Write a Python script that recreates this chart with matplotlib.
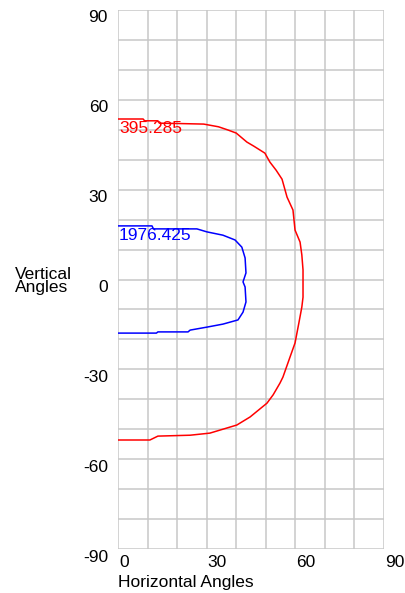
import matplotlib
matplotlib.use("Agg")
import matplotlib.pyplot as plt
import matplotlib.transforms as mtransforms

# ========== DATA ==========
# outer contour (red), traced from top to bottom
red_h = [0, 8.5, 9, 13.5, 14, 20, 29, 34, 37, 40, 43.6, 46, 49.7, 51.4, 53.5, 55.5,
         57.2, 59.2, 59.9, 61.6, 62.2, 62.6, 62.6, 62.2, 61.2, 59.9, 58.2, 55.8,
         54.8, 52.5, 50.4, 44.7, 40.2, 31.1, 24.4, 13.5, 10.8, 0]
red_v = [53.6, 53.6, 53.0, 53.0, 52.2, 52.1, 51.9, 51.0, 50.0, 48.9, 45.9, 44.5, 42.2,
         39.2, 36.5, 33.5, 27.5, 23.2, 16.5, 12.5, 8.2, 3.2, -5.9, -9.2, -14.5, -21.2,
         -25.9, -32.6, -34.6, -38.5, -41.3, -45.9, -48.6, -51.3, -52.0, -52.3, -53.6, -53.6]

# inner contour (blue)
blue_h = [0, 11.5, 12, 26.7, 30.1, 35.5, 39.6, 41.9, 43, 43.3, 42.3, 43, 43.3, 42.3,
          40.6, 35.5, 30.1, 24.4, 23.7, 13.5, 13, 0]
blue_v = [17.9, 17.9, 16.9, 16.9, 15.9, 14.8, 13.2, 10.8, 7.2, 2.2, -0.8, -2.5, -7.5,
          -10.9, -13.5, -14.9, -15.9, -16.9, -17.5, -17.5, -17.9, -17.9]

red_label = "395.285"
blue_label = "1976.425"

x_ticks = [0, 30, 60, 90]
y_ticks = [90, 60, 30, 0, -30, -60, -90]

FONT = "Liberation Sans"
FS = 12.5
GRID = "#c8c8c8"
RED = "#ff0000"
BLUE = "#0000ff"

# ========== FIGURE ==========
fig = plt.figure(figsize=(4.05, 5.93), dpi=100)
ax = fig.add_axes([118 / 405, 1 - 549 / 593, 266 / 405, 539 / 593])
ax.set_xlim(0, 90)
ax.set_ylim(-90, 90)

# grid every 10 degrees
for gx in range(0, 91, 10):
    ax.axvline(gx, color=GRID, lw=1.1, zorder=1)
for gy in range(-90, 91, 10):
    ax.axhline(gy, color=GRID, lw=1.1, zorder=1)
for s in ax.spines.values():
    s.set_visible(False)

ax.plot(red_h, red_v, color=RED, lw=1.1, zorder=3)
ax.plot(blue_h, blue_v, color=BLUE, lw=1.1, zorder=3)

ax.text(0.3, 53.0, red_label, color=RED, fontsize=FS, family=FONT,
        ha="left", va="top", zorder=4)
ax.text(0.3, 17.2, blue_label, color=BLUE, fontsize=FS, family=FONT,
        ha="left", va="top", zorder=4)

# ========== TICK LABELS ==========
ax.set_xticks([])
ax.set_yticks([])
down = mtransforms.offset_copy(ax.transData, fig=fig, x=0, y=-8, units="dots")
for t in y_ticks:
    ax.text(-3.4, t, str(t), transform=down, fontsize=FS, family=FONT,
            ha="right", va="center", clip_on=False)
for t in x_ticks:
    ax.text(t + 0.4, -92.0, str(t), fontsize=FS, family=FONT,
            ha="left", va="top", clip_on=False)

fig.text(118 / 405, 1 - 583 / 593, "Horizontal Angles", fontsize=FS, family=FONT,
         ha="left", va="center")
fig.text(15 / 405, 1 - 281 / 593, "Vertical\nAngles", fontsize=FS, family=FONT,
         ha="left", va="center", linespacing=0.85)

fig.savefig("out.png", dpi=100)
